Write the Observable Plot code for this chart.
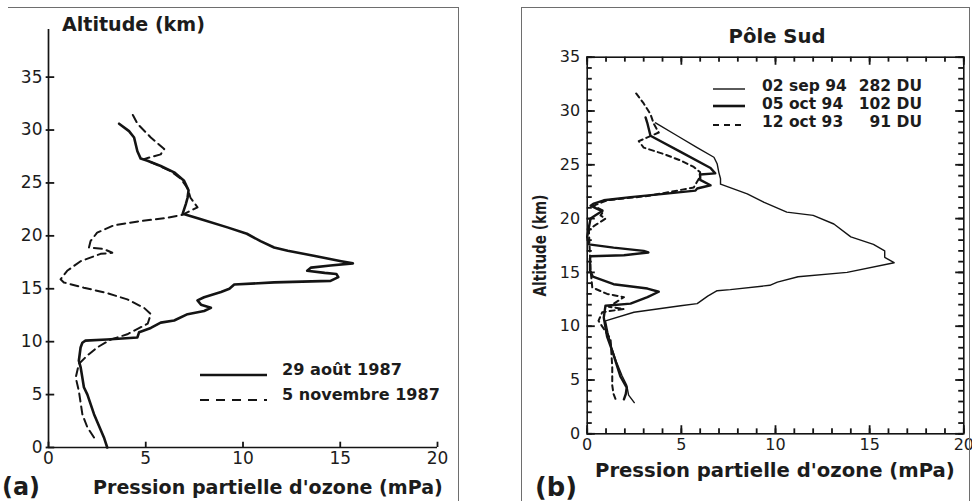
<!DOCTYPE html>
<html><head><meta charset="utf-8">
<script src="https://cdn.jsdelivr.net/npm/d3@7"></script>
<script src="https://cdn.jsdelivr.net/npm/@observablehq/plot@0.6"></script>
<style>
html,body{margin:0;padding:0;background:#fff;}
#root{position:relative;width:972px;height:501px;overflow:hidden;background:#fff;}
#root svg{position:absolute;top:0;}
.t{position:absolute;white-space:nowrap;line-height:1;font-family:"DejaVu Sans",sans-serif;color:#1c1c1c;}
.box{position:absolute;border-color:#6e6e6e;border-style:solid;border-width:0;}
</style></head><body>
<div id="root"></div>
<script>
const INK = "#141414";

// ---------- Panel (a) ----------
const xTickValues = [0, 5, 10, 15, 20];
const yTickValuesA = [0, 5, 10, 15, 20, 25, 30, 35];
const aug87Pressure = [3.02, 2.85, 2.34, 2.0, 1.82, 1.74, 1.65, 1.56, 1.65, 1.74,
  1.9, 3.0, 4.57, 4.66, 5.26, 5.77, 6.46, 7.15, 8.0, 8.35,
  7.84, 7.66, 8.0, 8.87, 9.3, 9.55, 11.6, 14.5, 14.9, 14.8,
  14.2, 13.3, 13.5, 14.5, 15.65, 15.05, 13.7, 12.3, 11.6, 10.9,
  10.2, 9.2, 7.8, 6.9, 7.06, 7.15, 7.2, 6.97, 6.46, 5.77,
  5.09, 4.74, 4.57, 4.4, 4.14, 3.63];
const aug87Altitude = [0, 0.95, 3.15, 5.0, 5.7, 6.6, 7.6, 8.2, 9.45, 9.9,
  10.1, 10.2, 10.4, 10.9, 11.3, 11.8, 12.0, 12.6, 12.9, 13.2,
  13.5, 13.9, 14.2, 14.7, 15.0, 15.4, 15.6, 15.75, 16.1, 16.4,
  16.5, 16.7, 17.0, 17.2, 17.4, 17.6, 18.1, 18.6, 18.9, 19.5,
  20.2, 20.8, 21.6, 22.1, 23.0, 23.6, 24.3, 25.2, 26.0, 26.6,
  27.1, 27.3, 28.0, 29.3, 29.9, 30.6];
const nov87Pressure = [2.34, 2.0, 1.74, 1.56, 1.4, 1.56, 2.0, 2.5, 3.2, 4.05,
  5.1, 5.26, 4.91, 4.05, 3.0, 1.82, 0.79, 0.62, 0.96, 1.65,
  2.68, 3.28, 2.85, 2.08, 2.16, 2.5, 3.37, 4.74, 6.1, 6.9,
  7.66, 7.3, 7.15, 6.8, 6.3, 5.6, 4.9, 5.77, 5.95, 5.26,
  4.57, 4.23];
const nov87Altitude = [0.95, 1.9, 3.15, 5.35, 6.6, 7.9, 8.7, 9.45, 10.2, 10.7,
  11.7, 12.6, 13.2, 14.0, 14.6, 15.1, 15.6, 15.9, 16.7, 17.6,
  18.3, 18.4, 18.75, 18.9, 19.5, 20.3, 21.0, 21.4, 21.7, 22.0,
  22.7, 23.6, 24.5, 25.4, 26.1, 26.7, 27.25, 27.7, 28.2, 29.3,
  30.6, 31.8];
const legendA = ["29 août 1987", "5 novembre 1987"];

// ---------- Panel (b) ----------
const yTickValuesB = [0, 5, 10, 15, 20, 25, 30, 35];
const xMinorTicksB = [0, 1, 2, 3, 4, 5, 6, 7, 8, 9, 10, 11, 12, 13, 14, 15, 16, 17, 18, 19, 20];
const yMinorTicksB = [0, 1, 2, 3, 4, 5, 6, 7, 8, 9, 10, 11, 12, 13, 14, 15, 16, 17, 18, 19, 20,
  21, 22, 23, 24, 25, 26, 27, 28, 29, 30, 31, 32, 33, 34, 35];
const sep94Pressure = [2.5, 2.2, 2.1, 1.85, 1.55, 1.3, 1.1, 0.97, 2.48, 4.96,
  5.84, 6.4, 6.9, 7.6, 9.7, 10.1, 11.2, 13.8, 16.3, 15.8,
  15.8, 15.2, 14.0, 13.1, 12.0, 10.6, 9.4, 8.5, 7.08, 7.08,
  6.99, 6.9, 6.73, 5.84, 4.78, 3.63];
const sep94Altitude = [2.9, 3.6, 4.5, 5.4, 6.7, 8.0, 9.4, 10.5, 11.3, 11.9,
  12.1, 12.8, 13.3, 13.4, 13.8, 14.1, 14.6, 15.0, 15.9, 16.4,
  17.0, 17.6, 18.3, 19.5, 20.3, 20.6, 21.5, 22.3, 23.2, 23.7,
  24.3, 25.1, 25.7, 26.6, 27.7, 28.9];
const oct94Pressure = [1.95, 2.05, 2.1, 1.77, 1.33, 1.06, 0.88, 0.97, 2.3, 3.2,
  3.8, 3.2, 1.4, 0.3, 0.15, 0.15, 0.18, 1.95, 3.25, 3.0,
  1.4, 0.09, 0.0, 0.09, 0.18, 0.44, 0.8, 0.53, 0.18, 0.35,
  0.88, 2.3, 4.07, 5.75, 5.84, 6.55, 6.0, 6.0, 6.8, 6.55,
  4.96, 3.36, 3.19, 3.1];
const oct94Altitude = [3.2, 3.7, 4.3, 5.3, 7.7, 9.0, 10.8, 11.9, 12.1, 12.7,
  13.2, 13.5, 13.9, 14.6, 15.2, 16.3, 16.5, 16.6, 16.85, 17.0,
  17.3, 17.6, 18.3, 19.2, 20.0, 20.3, 20.7, 20.9, 21.2, 21.4,
  21.7, 22.0, 22.3, 22.6, 22.8, 23.1, 23.6, 24.1, 24.2, 24.7,
  26.2, 27.7, 28.9, 29.4];
const oct93Pressure = [1.5, 1.4, 1.33, 1.33, 1.24, 0.6, 0.8, 1.95, 1.15, 1.95,
  1.06, 0.27, 0.18, 0.09, 0.35, 0.71, 0.97, 0.71, 0.88, 0.35,
  1.06, 3.19, 4.78, 5.66, 5.93, 6.0, 5.66, 4.96, 4.07, 3.0,
  2.74, 3.8, 3.54, 3.36, 3.0, 2.57];
const oct93Altitude = [3.25, 3.7, 4.5, 6.2, 8.8, 10.5, 11.3, 11.6, 11.8, 12.7,
  13.0, 13.6, 15.2, 18.9, 19.3, 19.7, 20.0, 20.3, 20.7, 21.2,
  21.7, 22.1, 22.6, 22.9, 23.7, 24.3, 24.8, 25.4, 26.0, 26.6,
  27.2, 28.0, 28.8, 29.7, 30.7, 31.7];
const legendB = [["02 sep 94", "282 DU"], ["05 oct 94", "102 DU"], ["12 oct 93", "91 DU"]];

const rows = (P, A) => P.map((p, i) => ({p, alt: A[i]}));
const root = document.getElementById("root");
const id = (d) => d;
const at = (v) => () => v;

// ---------- Plot (a) ----------
const plotA = Plot.plot({
  width: 480, height: 501,
  marginLeft: 48, marginRight: 43, marginTop: 29, marginBottom: 54,
  x: {domain: [0, 20]},
  y: {domain: [0, 39.5]},
  style: {fontFamily: "DejaVu Sans", fontSize: "17px", color: "#1c1c1c", background: "transparent", overflow: "visible"},
  marks: [
    Plot.ruleX([0], {stroke: INK, strokeWidth: 1.7}),
    Plot.ruleY([0], {stroke: INK, strokeWidth: 1.7}),
    // short ticks straddling the axes (lengths in data units)
    Plot.ruleY(yTickValuesA, {y: id, x1: at(-0.12), x2: at(0.32), stroke: INK, strokeWidth: 1.8}),
    Plot.ruleX(xTickValues, {x: id, y1: at(0), y2: at(0.5), stroke: INK, strokeWidth: 1.8}),
    Plot.axisY(yTickValuesA, {tickSize: 0, tickPadding: 6, label: null, fontSize: 17}),
    Plot.axisX(xTickValues, {tickSize: 0, tickPadding: 4, label: null, fontSize: 17}),
    Plot.line(rows(nov87Pressure, nov87Altitude), {x: "p", y: "alt", stroke: INK, strokeWidth: 2, strokeDasharray: "8,5", curve: "linear"}),
    Plot.line(rows(aug87Pressure, aug87Altitude), {x: "p", y: "alt", stroke: INK, strokeWidth: 2.6, curve: "linear"})
  ]
});
plotA.style.left = "0px";
root.appendChild(plotA);

// ---------- Plot (b) ----------
const tk = {stroke: INK, strokeWidth: 1.8};
const plotB = Plot.plot({
  width: 492, height: 501,
  marginLeft: 106.7, marginRight: 8.7, marginTop: 56.7, marginBottom: 67.7,
  x: {domain: [0, 20]},
  y: {domain: [0, 35]},
  style: {fontFamily: "DejaVu Sans", fontSize: "16px", color: "#1c1c1c", background: "transparent", overflow: "visible"},
  marks: [
    Plot.frame({stroke: INK, strokeWidth: 1.6}),
    // inward minor / major ticks on all four sides (lengths in data units)
    Plot.ruleX(xMinorTicksB, {x: id, y1: at(0), y2: at(0.46), ...tk}),
    Plot.ruleX(xTickValues, {x: id, y1: at(0), y2: at(0.75), ...tk}),
    Plot.ruleX(xMinorTicksB, {x: id, y1: at(35), y2: at(34.54), ...tk}),
    Plot.ruleX(xTickValues, {x: id, y1: at(35), y2: at(34.25), ...tk}),
    Plot.ruleY(yMinorTicksB, {y: id, x1: at(0), x2: at(0.27), ...tk}),
    Plot.ruleY(yTickValuesB, {y: id, x1: at(0), x2: at(0.43), ...tk}),
    Plot.ruleY(yMinorTicksB, {y: id, x1: at(20), x2: at(19.73), ...tk}),
    Plot.ruleY(yTickValuesB, {y: id, x1: at(20), x2: at(19.57), ...tk}),
    Plot.axisY(yTickValuesB, {tickSize: 0, tickPadding: 7, label: null, fontSize: 16}),
    Plot.axisX(xTickValues, {tickSize: 0, tickPadding: 5, label: null, fontSize: 16}),
    Plot.line(rows(oct93Pressure, oct93Altitude), {x: "p", y: "alt", stroke: INK, strokeWidth: 2, strokeDasharray: "5,4", curve: "linear"}),
    Plot.line(rows(sep94Pressure, sep94Altitude), {x: "p", y: "alt", stroke: INK, strokeWidth: 1.4, curve: "linear"}),
    Plot.line(rows(oct94Pressure, oct94Altitude), {x: "p", y: "alt", stroke: INK, strokeWidth: 2.4, curve: "linear"})
  ]
});
plotB.style.left = "480px";
root.appendChild(plotB);

// ---------- outer frames of the scanned figure ----------
function box(left, top, width, height, sides) {
  const d = document.createElement("div");
  d.className = "box";
  Object.assign(d.style, {left: left + "px", top: top + "px", width: width + "px", height: height + "px"});
  for (const s of sides) d.style["border" + s + "Width"] = "1.5px";
  root.appendChild(d);
}
box(8, 7, 450, 510, ["Top", "Right"]);
box(521, 7, 447, 510, ["Top", "Left", "Right"]);

// ---------- text ----------
function label(text, o) {
  const el = document.createElement("div");
  el.className = "t";
  el.textContent = text;
  el.style.fontWeight = o.weight || "bold";
  el.style.fontSize = "20px";
  root.appendChild(el);
  let w = el.getBoundingClientRect().width;
  const size = o.width ? 20 * o.width / w : o.size;
  el.style.fontSize = size + "px";
  w = el.getBoundingClientRect().width;
  const left = o.left != null ? o.left : o.right != null ? o.right - w : o.cx - w / 2;
  el.style.left = left + "px";
  el.style.top = (o.cy - 0.5 * size) + "px";
  return el;
}
function vlabel(text, o) {
  const el = document.createElement("div");
  el.className = "t";
  el.textContent = text;
  el.style.fontWeight = "bold";
  el.style.fontSize = o.size + "px";
  root.appendChild(el);
  const r = el.getBoundingClientRect();
  el.style.left = (o.cx - r.width / 2) + "px";
  el.style.top = (o.cy - r.height / 2) + "px";
  el.style.transformOrigin = "50% 50%";
  el.style.transform = `rotate(-90deg) scaleX(${o.length / r.width})`;
}

// panel (a)
label("Altitude (km)", {left: 62, width: 143, cy: 25});
label("Pression partielle d'ozone (mPa)", {left: 93, width: 350, cy: 488});
label("(a)", {left: 2, width: 38, cy: 488});
legendA.forEach((s, i) => label(s, {left: 282, width: i === 0 ? 120 : 158, cy: 370 + i * 25}));

// panel (b)
label("Pôle Sud", {cx: 777, width: 97, cy: 37});
vlabel("Altitude (km)", {cx: 541, cy: 245, size: 17, length: 102});
label("Pression partielle d'ozone (mPa)", {left: 595, width: 360, cy: 471});
label("(b)", {left: 535, width: 42, cy: 488});
legendB.forEach(([d, du], i) => {
  label(d, {left: 762, size: 15.5, cy: 87 + i * 18});
  label(du, {right: 922, size: 15.5, cy: 87 + i * 18});
});

// legend swatches
const NS = "http://www.w3.org/2000/svg";
const sw = document.createElementNS(NS, "svg");
sw.setAttribute("width", 972); sw.setAttribute("height", 501);
sw.style.left = "0px"; sw.style.pointerEvents = "none";
function seg(x1, x2, y, width, dash) {
  const l = document.createElementNS(NS, "line");
  l.setAttribute("x1", x1); l.setAttribute("x2", x2);
  l.setAttribute("y1", y); l.setAttribute("y2", y);
  l.setAttribute("stroke", INK); l.setAttribute("stroke-width", width);
  if (dash) l.setAttribute("stroke-dasharray", dash);
  sw.appendChild(l);
}
seg(200, 267, 375, 2.6);
seg(200, 267, 400, 2, "9,7");
seg(713, 745, 89, 1.4);
seg(713, 745, 106, 2.6);
seg(713, 745, 125, 2, "6,5");
root.appendChild(sw);
</script>
</body></html>
